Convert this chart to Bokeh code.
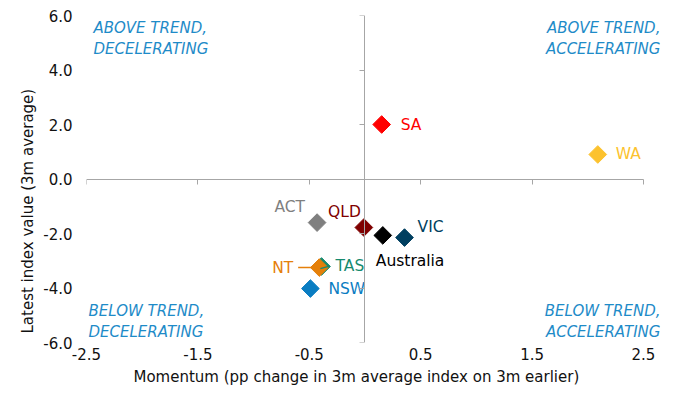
import math
from bokeh.plotting import figure
from bokeh.models import (ColumnDataSource, LinearAxis, FixedTicker, PrintfTickFormatter,
                          CustomJSTickFormatter, Range1d, Label, Title)
from bokeh.core.properties import value
from bokeh.embed import file_html
from bokeh.resources import INLINE

# ---- data ----
states = ["SA", "WA", "ACT", "QLD", "Australia", "VIC", "TAS", "NT", "NSW"]
momentum = [0.15, 2.09, -0.43, -0.01, 0.16, 0.355, -0.39, -0.41, -0.49]
index_value = [2.0, 0.9, -1.6, -1.78, -2.07, -2.15, -3.21, -3.25, -4.02]
colors = ["#FF0000", "#FCC22E", "#7F7F7F", "#7F0000", "#000000", "#003F60",
          "#178A6E", "#E5800A", "#0A7DC2"]
x_ticks = [-2.5, -1.5, -0.5, 0.5, 1.5, 2.5]
y_ticks = [-6.0, -4.0, -2.0, 0.0, 2.0, 4.0, 6.0]
quadrants = ["ABOVE TREND,\nDECELERATING", "ABOVE TREND,\nACCELERATING",
             "BELOW TREND,\nDECELERATING", "BELOW TREND,\nACCELERATING"]
x_title = "Momentum (pp change in 3m average index on 3m earlier)"
y_title = "Latest index value (3m average)"

# label placement (pixels, +y = down)
label_dx = [19, 18, -12, -3, -7, 13, 14, -26, 18]
label_dy = [0, 0, -16, -16, 26, -11, 0, 0, 0]
label_align = ["left", "left", "right", "right", "left", "left", "left", "right", "left"]

FONT = "DejaVu Sans"
QCOL = "#1E8BC8"
AXCOL = "#A6A6A6"
TXT = "#111111"

X0, X1 = x_ticks[0], x_ticks[-1]
Y0, Y1 = y_ticks[0], y_ticks[-1]

p = figure(width=662, height=389, x_range=Range1d(X0, X1 + 0.153), y_range=Range1d(Y0, Y1),
           output_backend="svg", toolbar_location=None,
           x_axis_location=None, y_axis_location=None,
           min_border_left=86, min_border_right=2, min_border_top=15, min_border_bottom=47)
p.outline_line_color = None
p.xgrid.visible = False
p.ygrid.visible = False

# label-only axes
xa = LinearAxis(ticker=FixedTicker(ticks=x_ticks), formatter=PrintfTickFormatter(format="%.1f"),
                axis_line_color=None, major_tick_line_color=None, minor_tick_line_color=None,
                major_tick_out=0, major_tick_in=0, major_label_standoff=5,
                major_label_text_font=FONT, major_label_text_font_size="15px",
                major_label_text_color=TXT)
p.add_layout(xa, "below")
p.add_layout(Title(text=x_title, align="left", offset=47, standoff=6,
                   text_font=FONT, text_font_size="15px",
                   text_font_style="normal", text_color=TXT), "below")

ya = LinearAxis(ticker=FixedTicker(ticks=y_ticks), formatter=PrintfTickFormatter(format="%.1f"),
                axis_line_color=None, major_tick_line_color=None, minor_tick_line_color=None,
                major_tick_out=0, major_tick_in=0, major_label_standoff=14,
                major_label_text_font=FONT, major_label_text_font_size="15px",
                major_label_text_color=TXT)
p.add_layout(ya, "left")
p.add_layout(Title(text=y_title, align="left", offset=9,
                   standoff=7, text_font=FONT, text_font_size="15px",
                   text_font_style="normal", text_color=TXT), "left")

# crossing axes at zero
blank = CustomJSTickFormatter(code="return ''")
xa0 = LinearAxis(fixed_location=0, ticker=FixedTicker(ticks=x_ticks), formatter=blank,
                 bounds=(X0, X1),
                 axis_line_color=AXCOL, major_tick_line_color=AXCOL, minor_tick_line_color=None,
                 major_tick_out=5, major_tick_in=0)
p.add_layout(xa0, "below")
ya0 = LinearAxis(fixed_location=0, ticker=FixedTicker(ticks=y_ticks), formatter=blank,
                 axis_line_color=AXCOL, major_tick_line_color=AXCOL, minor_tick_line_color=None,
                 major_tick_out=5, major_tick_in=0)
p.add_layout(ya0, "left")

src = ColumnDataSource(dict(x=momentum, y=index_value, name=states, color=colors,
                            dx=label_dx, dy=label_dy, align=label_align))

# leader lines (NT, TAS)
i_nt = states.index("NT")
i_tas = states.index("TAS")
p.segment(x0=[momentum[i_nt] - 0.19], y0=[index_value[i_nt]],
          x1=[momentum[i_nt]], y1=[index_value[i_nt]], line_color=colors[i_nt], line_width=1.5)

p.scatter("x", "y", source=src, marker="square", angle=math.pi / 4, size=12.5,
          fill_color="color", line_color="color")

p.segment(x0=[momentum[i_tas] - 0.01], y0=[index_value[i_tas] - 0.08],
          x1=[momentum[i_tas] + 0.07], y1=[index_value[i_tas] + 0.01],
          line_color=colors[i_tas], line_width=1.2)

p.text("x", "y", text="name", source=src, x_offset="dx", y_offset="dy",
       text_align="align", text_baseline="middle", text_color="color",
       text_font=value(FONT), text_font_size="15.5px")

# quadrant labels
qkw = dict(text_font=FONT, text_font_size="15px", text_font_style="italic",
           text_color=QCOL, text_line_height=1.2)
p.add_layout(Label(x=X0, y=Y1, text=quadrants[0], x_offset=7, y_offset=-3,
                   text_align="left", text_baseline="top", **qkw))
p.add_layout(Label(x=X1, y=Y1, text=quadrants[1], x_offset=17, y_offset=-3,
                   text_align="right", text_baseline="top", **qkw))
p.add_layout(Label(x=X0, y=Y0, text=quadrants[2], x_offset=2, y_offset=1,
                   text_align="left", text_baseline="bottom", **qkw))
p.add_layout(Label(x=X1, y=Y0, text=quadrants[3], x_offset=17, y_offset=1,
                   text_align="right", text_baseline="bottom", **qkw))

open("out.html", "w").write(file_html(p, INLINE))
